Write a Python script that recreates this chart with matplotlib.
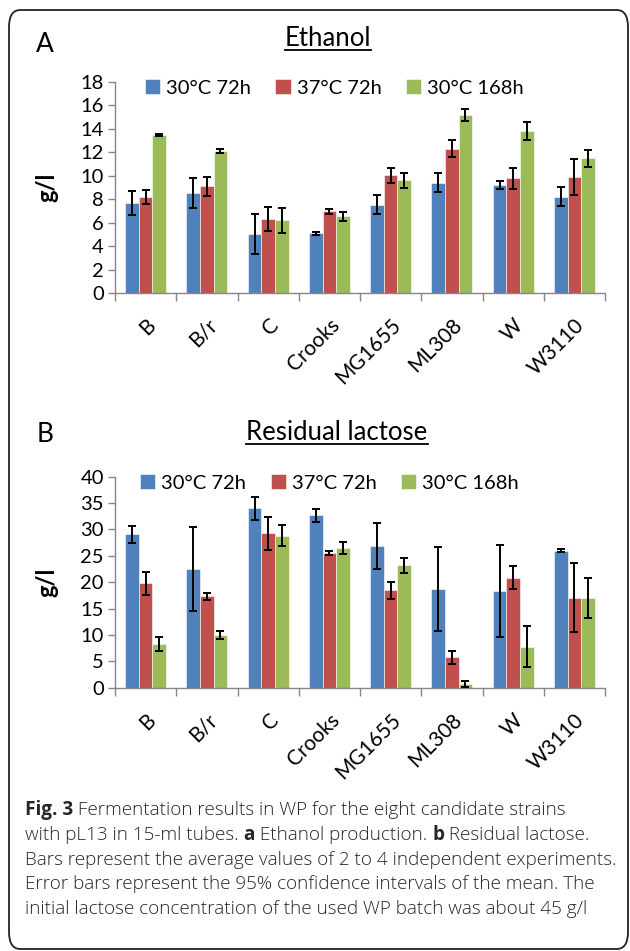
import matplotlib
matplotlib.use("Agg")
import matplotlib.pyplot as plt
from matplotlib.patches import FancyBboxPatch
from matplotlib.lines import Line2D
import numpy as np

plt.rcParams['font.family'] = ['Lato', 'DejaVu Sans']

strains = ['B', 'B/r', 'C', 'Crooks', 'MG1655', 'ML308', 'W', 'W3110']
conds = ['30°C 72h', '37°C 72h', '30°C 168h']
colors = ['#4F81BD', '#C0504D', '#9BBB59']

# ethanol g/l
eth_30_72 = [7.65, 8.5, 5.02, 5.1, 7.51, 9.41, 9.21, 8.19]
eth_37_72 = [8.16, 9.1, 6.32, 6.97, 10.03, 12.3, 9.78, 9.92]
eth_30_168 = [13.46, 12.1, 6.18, 6.52, 9.6, 15.16, 13.8, 11.48]
eth_err_30_72 = [1.03, 1.3, 1.7, 0.12, 0.8, 0.8, 0.31, 0.82]
eth_err_37_72 = [0.58, 0.8, 1.0, 0.2, 0.64, 0.7, 0.88, 1.53]
eth_err_30_168 = [0.1, 0.18, 1.08, 0.35, 0.62, 0.5, 0.74, 0.72]

# residual lactose g/l
lac_30_72 = [29.06, 22.5, 34.0, 32.66, 26.85, 18.64, 18.32, 25.96]
lac_37_72 = [19.77, 17.3, 29.25, 25.6, 18.45, 5.75, 20.85, 17.06]
lac_30_168 = [8.28, 10.0, 28.8, 26.5, 23.18, 0.76, 7.77, 17.06]
lac_err_30_72 = [1.55, 7.9, 2.2, 1.23, 4.36, 7.96, 8.7, 0.25]
lac_err_37_72 = [2.2, 0.7, 3.2, 0.4, 1.64, 1.17, 2.2, 6.5]
lac_err_30_168 = [1.36, 0.8, 2.0, 1.1, 1.4, 0.54, 3.9, 3.8]

W, H = 630, 951
fig = plt.figure(figsize=(W / 100, H / 100), dpi=100)

def px(x0, y0, x1, y1):
    # pixel box -> figure fraction [left, bottom, width, height]
    return [x0 / W, 1 - y1 / H, (x1 - x0) / W, (y1 - y0) / H]

def draw_panel(rect, series, errs, ymax, ystep, legend_x):
    ax = fig.add_axes(rect)
    x = np.arange(len(strains))
    bw = 1 / 4.5
    handles = []
    for i in range(3):
        b = ax.bar(x + (i - 1) * bw, series[i], bw, color=colors[i],
                   edgecolor='white', linewidth=0.4, label=conds[i], zorder=2)
        ax.errorbar(x + (i - 1) * bw, series[i], yerr=errs[i], fmt='none',
                    ecolor='black', elinewidth=1.4, capsize=3, capthick=1.4, zorder=3)
        handles.append(b)
    ax.set_xlim(-0.5, len(strains) - 0.5)
    ax.set_ylim(0, ymax)
    ax.set_yticks(np.arange(0, ymax + 0.1, ystep))
    ax.set_xticks(x)
    ax.set_xticklabels(strains, rotation=45, ha='right', va='top',
                       rotation_mode='anchor', fontsize=15)
    ax.set_xticks(np.arange(-0.5, len(strains), 1), minor=True)
    ax.tick_params(axis='x', which='major', length=0, pad=16)
    ax.tick_params(axis='x', which='minor', length=6, color='#868686', width=1)
    ax.tick_params(axis='y', length=5, color='#868686', width=1, labelsize=14.5, pad=3)
    for s in ['top', 'right']:
        ax.spines[s].set_visible(False)
    for s in ['left', 'bottom']:
        ax.spines[s].set_color('#868686')
        ax.spines[s].set_linewidth(1)
    ax.set_ylabel('g/l', fontsize=17, fontweight='bold', labelpad=16)
    ax.legend(handles=handles, loc='center left', bbox_to_anchor=(legend_x, 0.97),
              ncol=3, frameon=False, fontsize=14.5, handlelength=0.75,
              handleheight=0.75, handletextpad=0.3, columnspacing=1.2,
              borderaxespad=0)
    return ax

axA = draw_panel(px(115, 81.7, 605, 293), [eth_30_72, eth_37_72, eth_30_168],
                 [eth_err_30_72, eth_err_37_72, eth_err_30_168], 18, 2, 0.045)
axB = draw_panel(px(115, 476.7, 605, 687.7), [lac_30_72, lac_37_72, lac_30_168],
                 [lac_err_30_72, lac_err_37_72, lac_err_30_168], 40, 5, 0.035)

fig.text(45 / W, 1 - 45 / H, 'A', fontsize=19, ha='center', va='center')
fig.text(45 / W, 1 - 435 / H, 'B', fontsize=19, ha='center', va='center')
tA = fig.text(328 / W, 1 - 38 / H, 'Ethanol', fontsize=18.5, ha='center', va='center')
tB = fig.text(337 / W, 1 - 432 / H, 'Residual lactose', fontsize=18.5, ha='center', va='center')

# frame
fig.patches.append(FancyBboxPatch((9 / W, 1 - 949 / H), 619 / W, 939 / H,
                                  boxstyle='round,pad=0,rounding_size=0.018',
                                  transform=fig.transFigure, fill=False,
                                  edgecolor='#222222', linewidth=1.3))

# caption: lines of (text, bold) segments
caption = [
    [('Fig. 3', True), (' Fermentation results in WP for the eight candidate strains', False)],
    [('with pL13 in 15-ml tubes. ', False), ('a', True), (' Ethanol production. ', False),
     ('b', True), (' Residual lactose.', False)],
    [('Bars represent the average values of 2 to 4 independent experiments.', False)],
    [('Error bars represent the 95% confidence intervals of the mean. The', False)],
    [('initial lactose concentration of the used WP batch was about 45 g/l', False)],
]
cap_y = [810, 835, 860, 884, 909]

fig.canvas.draw()
r = fig.canvas.get_renderer()
for ln, y in zip(caption, cap_y):
    xpos = 25 / W
    for txt, bold in ln:
        t = fig.text(xpos, 1 - y / H, txt, fontsize=13.6, ha='left', va='center',
                     fontweight='bold' if bold else 'light',
                     family=['Open Sans', 'DejaVu Sans'], color='#262626')
        bb = t.get_window_extent(renderer=r)
        xpos = bb.x1 / W

# underline titles
for t in (tA, tB):
    bb = t.get_window_extent(renderer=r)
    yl = (bb.y0 + 1) / H
    fig.add_artist(Line2D([bb.x0 / W, bb.x1 / W], [yl, yl], color='black',
                          linewidth=1.3, transform=fig.transFigure))

fig.savefig('out.png', dpi=100)
